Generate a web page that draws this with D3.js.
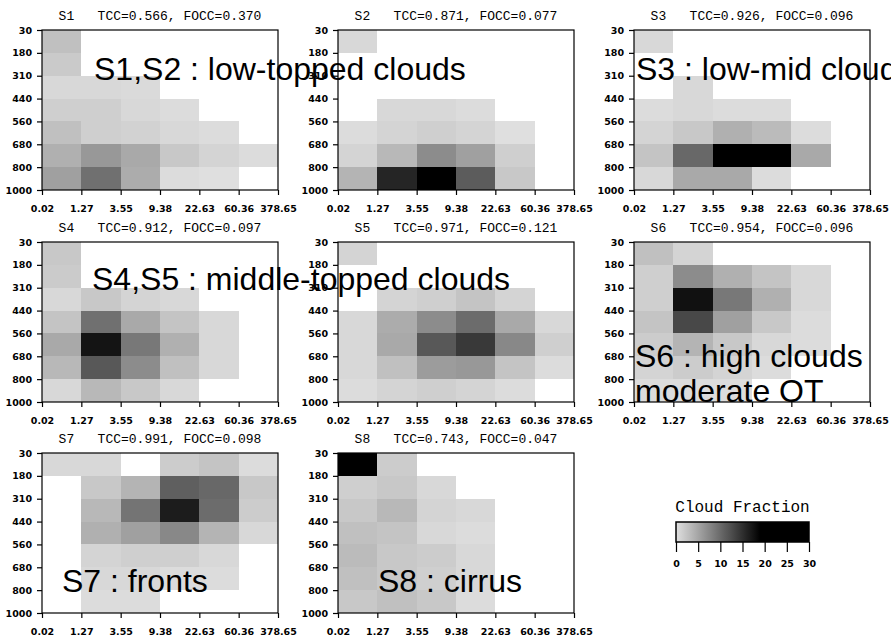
<!DOCTYPE html>
<html>
<head>
<meta charset="utf-8">
<script src="https://cdnjs.cloudflare.com/ajax/libs/d3/7.8.5/d3.min.js"></script>
<style>
  body { margin: 0; background: #fff; }
</style>
</head>
<body>
<div id="chart"></div>
<script>
// bin edges (optical thickness on x, cloud top pressure on y)
var tauEdges = ["0.02", "1.27", "3.55", "9.38", "22.63", "60.36", "378.65"];
var pcEdges = ["30", "180", "310", "440", "560", "680", "800", "1000"];

var regimes = ["S1", "S2", "S3", "S4", "S5", "S6", "S7", "S8"];
var tcc = [0.566, 0.871, 0.926, 0.912, 0.971, 0.954, 0.991, 0.743];
var focc = [0.370, 0.077, 0.096, 0.097, 0.121, 0.096, 0.098, 0.047];

// cloud fraction (%) per bin, rows = pressure bins top->bottom, cols = tau bins
var s1 = [
  [2.7, 0, 0, 0, 0, 0],
  [1.9, 0, 0, 0, 0, 0],
  [0.7, 0.7, 0.5, 0, 0, 0],
  [1.4, 1.4, 0.7, 0.3, 0, 0],
  [2.7, 1.4, 1.2, 0.7, 0.3, 0],
  [4.1, 6.1, 4.7, 2.0, 1.0, 0.3],
  [5.4, 9.5, 4.4, 0.3, 0.1, 0]
];
var s2 = [
  [0.7, 0, 0, 0, 0, 0],
  [0, 0, 0, 0, 0, 0],
  [0, 0, 0, 0, 0, 0],
  [0, 0.7, 0.7, 0.3, 0, 0],
  [0.3, 1.0, 1.4, 1.0, 0.1, 0],
  [1.0, 3.4, 7.1, 5.4, 1.4, 0],
  [3.7, 15.9, 28, 11.2, 2.0, 0]
];
var s3 = [
  [0.7, 0, 0, 0, 0, 0],
  [0, 0, 0, 0, 0, 0],
  [0, 0.7, 0, 0, 0, 0],
  [0.3, 0.7, 0.3, 0.3, 0, 0],
  [1.0, 2.0, 4.1, 3.1, 0.3, 0],
  [2.4, 10.2, 26, 25, 4.7, 0],
  [0.7, 4.7, 4.7, 0.3, 0, 0]
];
var s4 = [
  [2.0, 0, 0, 0, 0, 0],
  [1.8, 0, 0, 0, 0, 0],
  [0.7, 2.0, 1.0, 0.7, 0, 0],
  [2.4, 9.5, 4.7, 2.4, 0.7, 0],
  [4.7, 17.3, 8.8, 4.1, 0.7, 0],
  [3.4, 11.5, 7.1, 2.7, 0.7, 0],
  [0.7, 3.4, 2.0, 0.7, 0, 0]
];
var s5 = [
  [1.0, 0, 0, 0, 0, 0],
  [0, 0, 0, 0, 0, 0],
  [0, 1.0, 1.4, 2.4, 1.0, 0],
  [0.7, 4.4, 7.1, 9.8, 4.7, 0.7],
  [0.7, 4.7, 11.5, 14.2, 7.5, 1.4],
  [0.7, 2.7, 5.8, 6.1, 2.4, 0.3],
  [0.3, 1.0, 1.4, 1.0, 0.3, 0]
];
var s6 = [
  [2.7, 1.0, 0, 0, 0, 0],
  [1.4, 7.1, 4.1, 2.4, 0.7, 0],
  [1.4, 17.6, 8.8, 4.1, 0.7, 0],
  [2.4, 12.9, 5.4, 2.0, 0.3, 0],
  [1.7, 3.7, 2.0, 0.7, 0.3, 0],
  [1.0, 1.7, 1.0, 0.3, 0, 0],
  [0.3, 0.3, 0.3, 0, 0, 0]
];
var s7 = [
  [0.7, 0.7, 0, 1.7, 2.4, 0.3],
  [0, 2.0, 3.7, 10.9, 10.2, 2.0],
  [0, 3.4, 9.2, 16.6, 9.8, 1.7],
  [0, 4.1, 5.4, 7.5, 3.7, 0.7],
  [0, 1.0, 1.4, 1.4, 0.7, 0],
  [0, 0.7, 0.7, 0.3, 0.3, 0],
  [0, 0.3, 0.3, 0, 0, 0]
];
var s8 = [
  [30, 1.7, 0, 0, 0, 0],
  [1.4, 2.0, 0.7, 0, 0, 0],
  [2.0, 3.4, 1.0, 0.7, 0, 0],
  [2.7, 2.4, 0.7, 0.3, 0, 0],
  [3.1, 2.0, 1.7, 0.7, 0, 0],
  [2.7, 2.0, 1.4, 0.7, 0, 0],
  [2.0, 2.7, 2.0, 0.3, 0, 0]
];
var panels = [s1, s2, s3, s4, s5, s6, s7, s8];

var legendTicks = [0, 5, 10, 15, 20, 25, 30];
var notes = ["S1,S2 : low-topped clouds", "S3 : low-mid clouds", "S4,S5 : middle-topped clouds",
             "S6 : high clouds", "moderate OT", "S7 : fronts", "S8 : cirrus"];

// layout
var W = 891, H = 640;
var pw = 236, ph = 160;
var colX = [42, 338, 634];
var rowY = [30, 242, 453];
var notePos = [[94, 80], [636, 80], [92, 290], [635, 367], [635, 402], [62, 592], [378, 592]];

var color = d3.scaleLinear()
  .domain([0, 19, 30])
  .range(["#e0e0e0", "#000000", "#000000"])
  .clamp(true);

var svg = d3.select("#chart").append("svg")
  .attr("width", W)
  .attr("height", H)
  .style("background", "#fff");

function styleAxis(g){
  g.select(".domain").remove();
  g.selectAll(".tick line").attr("stroke", "#000").attr("stroke-width", 1.2);
  g.selectAll(".tick text")
    .attr("fill", "#000")
    .style("font-family", "'DejaVu Sans', sans-serif")
    .style("font-weight", "bold")
    .style("font-size", "9.5px");
}

function drawPanel(i){
  var c = i % 3, r = Math.floor(i / 3);
  var data = panels[i];
  var x = d3.scaleLinear().domain([0, tauEdges.length - 1]).range([colX[c], colX[c] + pw]);
  var y = d3.scaleLinear().domain([0, pcEdges.length - 1]).range([rowY[r], rowY[r] + ph]);
  var g = svg.append("g").attr("class", "panel");

  var cells = [];
  data.forEach(function(row, k){
    row.forEach(function(v, j){
      if (v > 0) cells.push({k: k, j: j, v: v});
    });
  });

  g.selectAll("rect.cell")
    .data(cells)
    .enter()
    .append("rect")
    .attr("class", "cell")
    .attr("x", function(d){ return x(d.j); })
    .attr("y", function(d){ return y(d.k); })
    .attr("width", function(d){ return x(d.j + 1) - x(d.j); })
    .attr("height", function(d){ return y(d.k + 1) - y(d.k); })
    .attr("fill", function(d){ return color(d.v); })
    .attr("shape-rendering", "crispEdges");

  // frame
  g.append("rect")
    .attr("x", x(0))
    .attr("y", y(0))
    .attr("width", pw)
    .attr("height", ph)
    .attr("fill", "none")
    .attr("stroke", "#000")
    .attr("stroke-width", 1.2);

  g.append("g")
    .attr("transform", "translate(0," + (rowY[r] + ph) + ")")
    .call(d3.axisBottom(x)
      .tickValues(d3.range(tauEdges.length))
      .tickFormat(function(d){ return tauEdges[d]; })
      .tickSize(5)
      .tickPadding(10))
    .call(styleAxis);

  g.append("g")
    .attr("transform", "translate(" + colX[c] + ",0)")
    .call(d3.axisLeft(y)
      .tickValues(d3.range(pcEdges.length))
      .tickFormat(function(d){ return pcEdges[d]; })
      .tickSize(5)
      .tickPadding(5))
    .call(styleAxis);

  g.append("text")
    .attr("x", colX[c] + pw / 2)
    .attr("y", rowY[r] - 10)
    .attr("text-anchor", "middle")
    .style("font-family", "'Liberation Mono', monospace")
    .style("font-size", "13px")
    .style("white-space", "pre")
    .text(regimes[i] + "   TCC=" + d3.format(".3f")(tcc[i]) + ", FOCC=" + d3.format(".3f")(focc[i]));
}

for (var i = 0; i < panels.length; i++) drawPanel(i);

// colour bar
var lx = d3.scaleLinear().domain([0, 30]).range([676, 809]);
var defs = svg.append("defs");
var grad = defs.append("linearGradient").attr("id", "cfGrad");
grad.selectAll("stop")
  .data(d3.range(0, 31, 1))
  .enter()
  .append("stop")
  .attr("offset", function(d){ return (d / 30 * 100) + "%"; })
  .attr("stop-color", function(d){ return color(d); });

svg.append("text")
  .attr("x", (lx(0) + lx(30)) / 2)
  .attr("y", 512)
  .attr("text-anchor", "middle")
  .style("font-family", "'Liberation Mono', monospace")
  .style("font-size", "16px")
  .text("Cloud Fraction");

svg.append("rect")
  .attr("x", lx(0))
  .attr("y", 522)
  .attr("width", lx(30) - lx(0))
  .attr("height", 20)
  .attr("fill", "url(#cfGrad)")
  .attr("stroke", "#000")
  .attr("stroke-width", 1.5);

svg.append("g")
  .attr("transform", "translate(0,542)")
  .call(d3.axisBottom(lx).tickValues(legendTicks).tickSize(10).tickPadding(8))
  .call(styleAxis);

// annotations over the panels
svg.selectAll("text.note")
  .data(notes)
  .enter()
  .append("text")
  .attr("class", "note")
  .attr("x", function(d, i){ return notePos[i][0]; })
  .attr("y", function(d, i){ return notePos[i][1]; })
  .style("font-family", "'Liberation Sans', Arial, sans-serif")
  .style("font-size", "32px")
  .attr("fill", "#000")
  .text(function(d){ return d; });
</script>
</body>
</html>
